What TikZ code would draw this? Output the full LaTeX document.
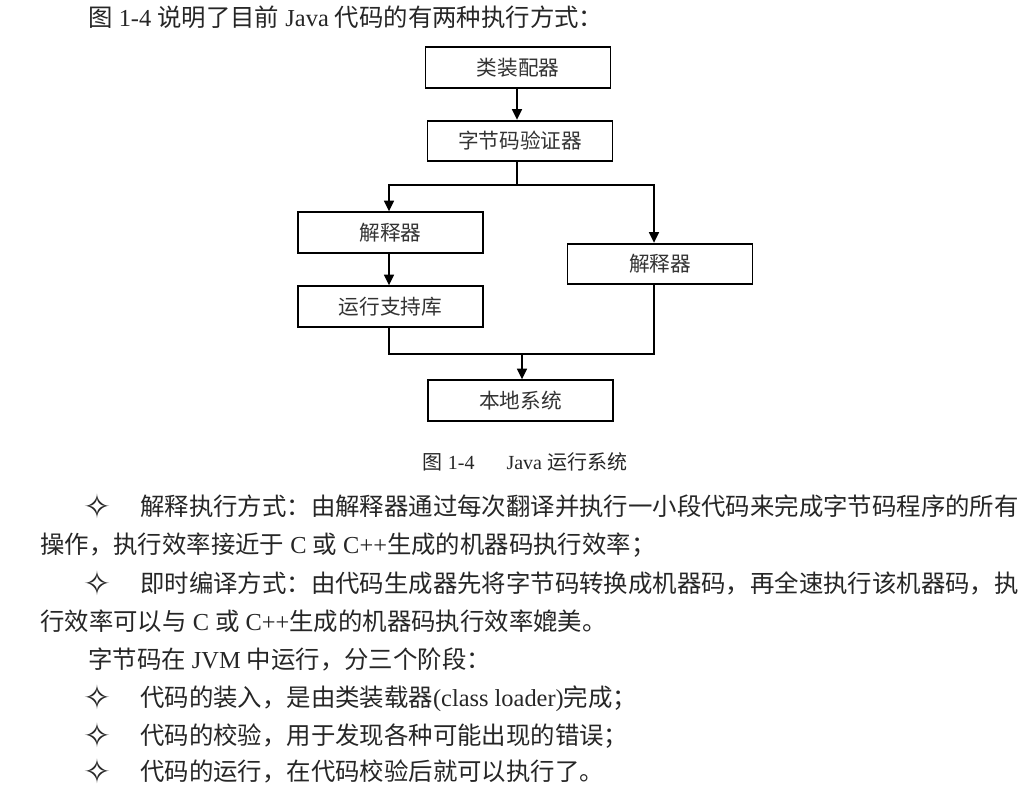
\documentclass[tikz,border=0pt]{standalone}
\usepackage{fontspec}
\setmainfont{Liberation Serif}
\newfontfamily\cjk{Noto Sans CJK SC}
\newfontfamily\symf{DejaVu Sans}
\usetikzlibrary{arrows.meta}
\newcommand\zhtext[1]{{\cjk #1}}
\begin{document}
\begin{tikzpicture}[x=0.75pt,y=-0.75pt,
  box/.style={draw=black, line width=1.3pt, minimum width=138.75pt, minimum height=30.5pt, inner sep=0pt,
              font=\fontsize{15.5}{18}\selectfont\cjk, text=black!80},
  conn/.style={line width=1.1pt},
  arr/.style={line width=1.1pt, -{Triangle[length=8pt,width=7.5pt]}},
  body/.style={anchor=base west, inner sep=0pt, font=\fontsize{18.3}{22}\selectfont, text=black!85},
  captext/.style={anchor=base, inner sep=0pt, font=\fontsize{15}{18}\selectfont, text=black!85},
  bulletmark/.style={anchor=center, inner sep=0pt, font=\fontsize{25}{27}\selectfont\symf, text=black!85}]
\fill[white] (0,0) rectangle (1030,790);
\useasboundingbox (0,0) rectangle (1030,790);

% top line
\node[body] (t0) at (88,26) {\zhtext{图} 1-4 \zhtext{说明了目前} Java \zhtext{代码的有两种执行方式：}};

% boxes
\node[box] (b1) at (518,67.5) {类装配器};
\node[box] (b2) at (520,141) {字节码验证器};
\node[box] (b3) at (390.5,232.5) {解释器};
\node[box] (b4) at (660,264) {解释器};
\node[box] (b5) at (390.5,306.5) {运行支持库};
\node[box] (b6) at (520.5,400.5) {本地系统};

% helper coordinates
\coordinate (sp) at (517,185);
\coordinate (lx) at (389,0);
\coordinate (rx) at (654,0);
\coordinate (jn) at (522,354);

% connectors
\draw[arr] (sp |- b1.south) -- (sp |- b2.north);
\draw[conn] (sp |- b2.south) -- (sp);
\draw[arr] (sp) -| (lx |- b3.north);
\draw[arr] (sp) -| (rx |- b4.north);
\draw[arr] (lx |- b3.south) -- (lx |- b5.north);
\draw[conn] (lx |- b5.south) |- (jn) -| (rx |- b4.south);
\draw[arr] (jn) -- (jn |- b6.north);

% caption
\node[captext] (fig) at (525,469) {\zhtext{图} 1-4\hspace{1.6em}Java \zhtext{运行系统}};

% body text
\node[bulletmark] (m1) at (97,506) {✧};
\node[body] (l1) at (140,515) {\zhtext{解释执行方式：由解释器通过每次翻译并执行一小段代码来完成字节码程序的所有}};
\node[body] (l2) at (40,553) {\zhtext{操作，执行效率接近于} C \zhtext{或} C++\zhtext{生成的机器码执行效率；}};
\node[bulletmark] (m2) at (97,583) {✧};
\node[body] (l3) at (140,592) {\zhtext{即时编译方式：由代码生成器先将字节码转换成机器码，再全速执行该机器码，执}};
\node[body] (l4) at (40,630) {\zhtext{行效率可以与} C \zhtext{或} C++\zhtext{生成的机器码执行效率媲美。}};
\node[body] (l5) at (88,668) {\zhtext{字节码在} JVM \zhtext{中运行，分三个阶段：}};
\node[bulletmark] (m3) at (97,697) {✧};
\node[body] (l6) at (140,706) {\zhtext{代码的装入，是由类装载器}(class loader)\zhtext{完成；}};
\node[bulletmark] (m4) at (97,735) {✧};
\node[body] (l7) at (140,744) {\zhtext{代码的校验，用于发现各种可能出现的错误；}};
\node[bulletmark] (m5) at (97,771) {✧};
\node[body] (l8) at (140,780) {\zhtext{代码的运行，在代码校验后就可以执行了。}};
\end{tikzpicture}
\end{document}
